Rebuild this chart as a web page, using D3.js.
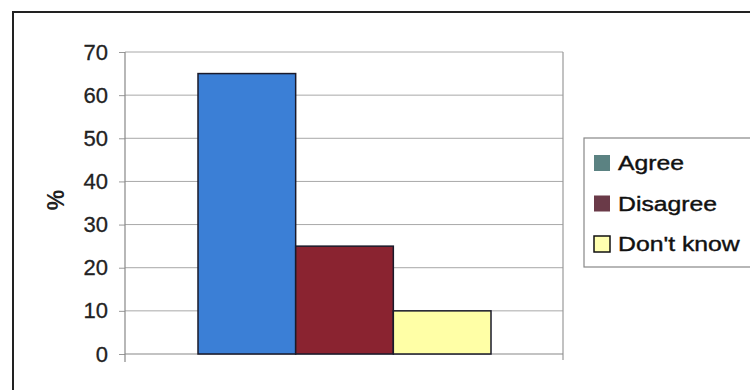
<!DOCTYPE html>
<html>
<head>
<meta charset="utf-8">
<script src="https://cdn.jsdelivr.net/npm/d3@7"></script>
<style>
  body { margin: 0; background: #fff; }
  svg { display: block; font-family: "Liberation Sans", Arial, sans-serif; }
</style>
</head>
<body>
<svg id="chart" width="750" height="390"></svg>
<script>
// data
const categories = ["Agree", "Disagree", "Don't know"];
const values = [65, 25, 10];
const barColors = ["#3b7fd6", "#8a2330", "#ffffa6"];
const legendColors = ["#5b8282", "#6a3a48", "#ffffb0"];
const yTicks = [0, 10, 20, 30, 40, 50, 60, 70];

const svg = d3.select("#chart");
const W = 750, H = 390;
const plot = { left: 125, top: 52, right: 563, bottom: 354 };

// outer frame (runs off right/bottom edges)
svg.append("rect")
  .attr("x", 13).attr("y", 12)
  .attr("width", W).attr("height", H)
  .attr("fill", "none").attr("stroke", "#222").attr("stroke-width", 2);

const y = d3.scaleLinear().domain([0, 70]).range([plot.bottom, plot.top]);
const x = d3.scaleBand().domain(categories).range([198, 491]).padding(0);

// gridlines
svg.append("g").selectAll("line")
  .data(yTicks.filter(d => d > 0))
  .join("line")
  .attr("x1", plot.left).attr("x2", plot.right)
  .attr("y1", d => y(d)).attr("y2", d => y(d))
  .attr("stroke", "#a8a8a8").attr("stroke-width", 1);

// right border of plot
svg.append("line")
  .attr("x1", plot.right).attr("x2", plot.right)
  .attr("y1", plot.top).attr("y2", plot.bottom + 6)
  .attr("stroke", "#999").attr("stroke-width", 1.2);

// y axis
const yAxis = d3.axisLeft(y).tickValues(yTicks).tickSize(6).tickPadding(11);
const ag = svg.append("g").attr("transform", `translate(${plot.left},0)`).call(yAxis);
ag.attr("font-size", null).attr("font-family", null);
ag.select(".domain").remove();
ag.selectAll(".tick line").attr("stroke", "#999");
ag.selectAll(".tick text")
  .style("font-size", "22px").attr("fill", "#222")
  .attr("stroke", "#222").attr("stroke-width", 0.3);
svg.append("line")
  .attr("x1", plot.left).attr("x2", plot.left)
  .attr("y1", plot.top).attr("y2", plot.bottom + 8)
  .attr("stroke", "#888").attr("stroke-width", 1.2);

// x baseline
svg.append("line")
  .attr("x1", plot.left).attr("x2", plot.right)
  .attr("y1", plot.bottom).attr("y2", plot.bottom)
  .attr("stroke", "#888").attr("stroke-width", 1.2);

// bars
svg.append("g").selectAll("rect")
  .data(values)
  .join("rect")
  .attr("x", (d, i) => x(categories[i]))
  .attr("y", d => y(d))
  .attr("width", x.bandwidth())
  .attr("height", d => y(0) - y(d))
  .attr("fill", (d, i) => barColors[i])
  .attr("stroke", "#1a1a2a").attr("stroke-width", 1.5);

// y label
svg.append("text")
  .attr("transform", "translate(64,200) rotate(-90)")
  .attr("text-anchor", "middle")
  .attr("font-size", 23).attr("font-weight", "bold").attr("fill", "#222")
  .text("%");

// legend
const lg = svg.append("g");
lg.append("rect")
  .attr("x", 584).attr("y", 138)
  .attr("width", 200).attr("height", 129)
  .attr("fill", "#fff").attr("stroke", "#888").attr("stroke-width", 1.2);

const legendY = d3.scalePoint().domain(categories).range([162, 243]);
categories.forEach((c, i) => {
  const cy = legendY(c);
  lg.append("rect")
    .attr("x", 594).attr("y", cy - 7)
    .attr("width", 16).attr("height", 16)
    .attr("fill", legendColors[i])
    .attr("stroke", i === 2 ? "#111" : "none").attr("stroke-width", 1.5);
  lg.append("text")
    .attr("transform", `translate(618,${cy + 8}) scale(1.18,1)`)
    .attr("font-size", 21).attr("fill", "#111")
    .attr("stroke", "#111").attr("stroke-width", 0.4)
    .text(c);
});
</script>
</body>
</html>
